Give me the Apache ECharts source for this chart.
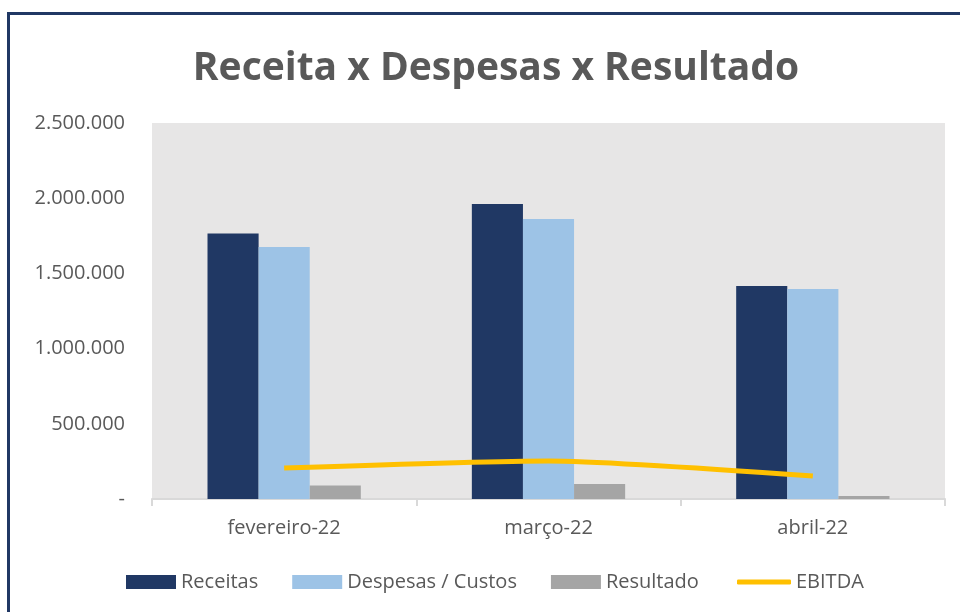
<!DOCTYPE html>
<html>
<head>
<meta charset="utf-8">
<script src="https://cdn.jsdelivr.net/npm/echarts@6/dist/echarts.min.js"></script>
<style>
  html, body { margin: 0; padding: 0; background: #fff; }
  #frame {
    position: absolute; left: 7px; top: 12px;
    width: 1000px; height: 700px;
    border: 3px solid #203864;
  }
  #main { position: absolute; left: 0; top: 0; width: 960px; height: 612px; }
</style>
</head>
<body>
<div id="frame"></div>
<div id="main"></div>
<script>
// dados do gráfico
const meses = ['fevereiro-22', 'março-22', 'abril-22']
const receitas = [1765000, 1961000, 1416000]
const despesas = [1675000, 1862000, 1396000]
const resultado = [90000, 99000, 20000]
const ebitda = [206000, 253000, 153000]

const cinza = '#595959'
const fonte = 'Open Sans'

// 2.500.000 / "-" para o zero
const formatar = (v) => {
  if (v === 0) return '-'
  return String(v).replace(/\B(?=(\d{3})+(?!\d))/g, '.')
}

const textoLegenda = { fontFamily: fonte, fontSize: 20, color: cinza }

const chart = echarts.init(document.getElementById('main'))
const option = {
  title: {
    text: 'Receita x Despesas x Resultado',
    left: 491,
    textAlign: 'center',
    top: 44,
    textStyle: {
      fontFamily: fonte,
      fontWeight: 'bold',
      fontSize: 39,
      color: cinza
    }
  },
  // barras e linha em legendas separadas (ícone da linha sem marcador)
  legend: [
    {
      left: 121,
      top: 567,
      itemWidth: 50,
      itemHeight: 14,
      itemGap: 34,
      icon: 'rect',
      textStyle: textoLegenda,
      data: ['Receitas', 'Despesas / Custos', 'Resultado']
    },
    {
      left: 732,
      top: 567,
      itemWidth: 54,
      itemHeight: 5,
      icon: 'roundRect',
      textStyle: textoLegenda,
      data: ['EBITDA']
    }
  ],
  grid: {
    left: 152,
    right: 15,
    top: 123,
    bottom: 113,
    show: true,
    backgroundColor: '#E7E6E6',
    borderWidth: 0
  },
  xAxis: {
    type: 'category',
    data: meses,
    axisLine: { lineStyle: { color: '#D9D9D9', width: 2 } },
    axisTick: { show: true, length: 7, lineStyle: { color: '#D9D9D9', width: 2 } },
    axisLabel: { fontFamily: fonte, fontSize: 20, color: cinza, margin: 19 }
  },
  yAxis: {
    type: 'value',
    min: 0,
    max: 2500000,
    interval: 500000,
    splitLine: { show: false },
    axisLine: { show: false },
    axisTick: { show: false },
    axisLabel: { fontFamily: fonte, fontSize: 20, color: cinza, margin: 27, formatter: formatar }
  },
  series: [
    {
      name: 'Receitas',
      type: 'bar',
      data: receitas,
      barGap: '0%',
      barCategoryGap: '42%',
      itemStyle: { color: '#203864' }
    },
    {
      name: 'Despesas / Custos',
      type: 'bar',
      data: despesas,
      itemStyle: { color: '#9DC3E6' }
    },
    {
      name: 'Resultado',
      type: 'bar',
      data: resultado,
      itemStyle: { color: '#A5A5A5' }
    },
    {
      name: 'EBITDA',
      type: 'line',
      data: ebitda,
      symbol: 'none',
      smooth: 0.2,
      lineStyle: { color: '#FFC000', width: 5 },
      itemStyle: { color: '#FFC000' }
    }
  ]
}
chart.setOption(option)
</script>
</body>
</html>
